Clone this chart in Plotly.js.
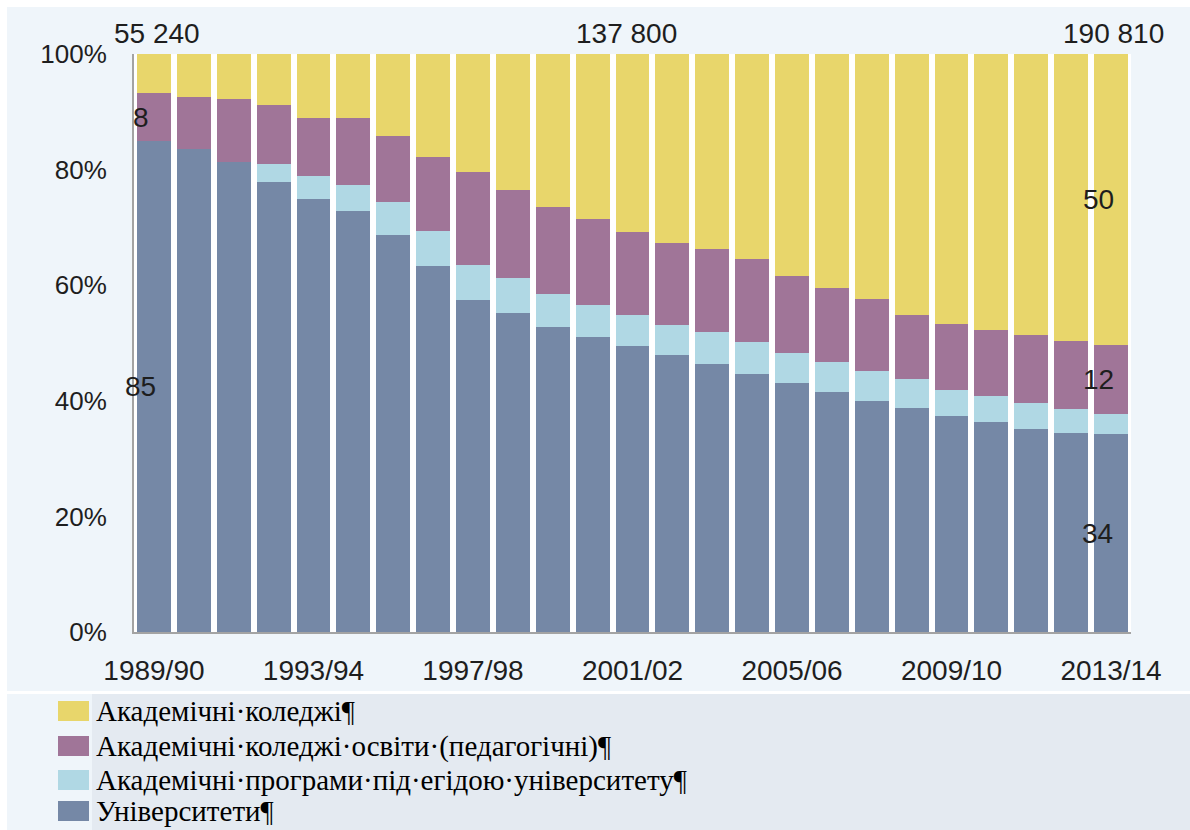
<!DOCTYPE html>
<html>
<head>
<meta charset="utf-8">
<script src="https://cdn.plot.ly/plotly-3.0.1.min.js"></script>
<style>
  html, body { margin: 0; padding: 0; background: #ffffff; }
  #chart { width: 1190px; height: 830px; }
</style>
</head>
<body>
<div id="chart"></div>
<script>
// ---- data ----
const years = ["1989/90","1990/91","1991/92","1992/93","1993/94","1994/95","1995/96","1996/97",
  "1997/98","1998/99","1999/00","2000/01","2001/02","2002/03","2003/04","2004/05","2005/06",
  "2006/07","2007/08","2008/09","2009/10","2010/11","2011/12","2012/13","2013/14"];
const tickYears = ["1989/90","1993/94","1997/98","2001/02","2005/06","2009/10","2013/14"];
const yTickVals = [0, 20, 40, 60, 80, 100];
const yTickText = ["0%", "20%", "40%", "60%", "80%", "100%"];

const seriesNames = [
  "Академічні·коледжі¶",
  "Академічні·коледжі·освіти·(педагогічні)¶",
  "Академічні·програми·під·егідою·університету¶",
  "Університети¶"
];
const seriesColors = ["#E8D66B", "#A07598", "#B0D8E4", "#7588A6"];

const academicColleges = [6.7,7.5,7.8,8.9,11.0,11.0,14.1,17.9,20.5,23.6,26.5,28.6,30.8,32.7,33.7,35.4,38.4,40.4,42.4,45.2,46.7,47.8,48.7,49.6,50.4];
const teacherColleges  = [8.4,8.9,10.8,10.1,10.1,11.7,11.5,12.7,16.0,15.1,15.0,14.9,14.4,14.2,14.4,14.4,13.3,12.9,12.5,11.0,11.4,11.3,11.6,11.9,11.9];
const univPrograms     = [0,0,0,3.2,4.0,4.5,5.8,6.0,6.1,6.1,5.8,5.5,5.3,5.2,5.5,5.6,5.2,5.2,5.1,5.0,4.5,4.6,4.5,4.0,3.5];
const universities     = [84.9,83.6,81.4,77.8,74.9,72.8,68.6,63.4,57.4,55.2,52.7,51.0,49.5,47.9,46.4,44.6,43.1,41.5,40.0,38.8,37.4,36.3,35.2,34.5,34.2];

const totalLabels = ["55 240", "137 800", "190 810"];
const totalYears  = ["1989/90", "2001/02", "2013/14"];

// ---- layout helpers (pixel -> paper) ----
const W = 1190, H = 830;
const M = {l: 134, r: 59, t: 54, b: 198};
const PW = W - M.l - M.r, PH = H - M.t - M.b;
const px = X => (X - M.l) / PW;
const py = Y => (H - M.b - Y) / PH;

const valuesTopDown = [academicColleges, teacherColleges, univPrograms, universities];

// stacked bars, bottom to top: universities, programs, teacher colleges, academic colleges
const traces = [3, 2, 1, 0].map(i => ({
  type: "bar",
  x: years,
  y: valuesTopDown[i],
  name: seriesNames[i],
  marker: {color: seriesColors[i], line: {width: 0}},
  showlegend: false,
  hoverinfo: "skip"
}));

const txtFont = {family: "Liberation Sans, Arial, sans-serif", size: 28, color: "#1e1e1e"};
const yFont = {family: "Liberation Sans, Arial, sans-serif", size: 26, color: "#1e1e1e"};

const annotations = [];
// totals above bars
totalLabels.forEach((t, k) => {
  const shift = k === 0 ? 3 : (k === 1 ? -6 : 2);
  annotations.push({xref: "x", yref: "paper", x: totalYears[k], y: py(34), xshift: shift,
    text: t, showarrow: false, xanchor: "center", yanchor: "middle", font: txtFont});
});
// segment labels, first bar
const first = 0, last = years.length - 1;
annotations.push({xref: "x", yref: "y", x: years[first], y: universities[first] / 2, xshift: -13,
  text: String(Math.round(universities[first])), showarrow: false, font: txtFont});
annotations.push({xref: "x", yref: "y", x: years[first],
  y: universities[first] + univPrograms[first] + teacherColleges[first] / 2, xshift: -13,
  text: String(Math.round(teacherColleges[first])), showarrow: false, font: txtFont});
// segment labels, last bar
annotations.push({xref: "x", yref: "y", x: years[last], y: universities[last] / 2, xshift: -14,
  text: String(Math.round(universities[last])), showarrow: false, font: txtFont});
annotations.push({xref: "x", yref: "y", x: years[last],
  y: universities[last] + univPrograms[last] + teacherColleges[last] / 2, xshift: -13,
  text: String(Math.round(teacherColleges[last])), showarrow: false, font: txtFont});
annotations.push({xref: "x", yref: "y", x: years[last],
  y: 100 - academicColleges[last] / 2, xshift: -13,
  text: String(Math.round(academicColleges[last])), showarrow: false, font: txtFont});

// background regions
const shapes = [
  {type: "rect", xref: "paper", yref: "paper", x0: px(0), x1: px(W), y0: py(7), y1: py(0),
    fillcolor: "#ffffff", line: {width: 0}, layer: "below"},
  {type: "rect", xref: "paper", yref: "paper", x0: px(0), x1: px(7), y0: py(H), y1: py(0),
    fillcolor: "#ffffff", line: {width: 0}, layer: "below"},
  {type: "rect", xref: "paper", yref: "paper", x0: px(0), x1: px(W), y0: py(694), y1: py(691),
    fillcolor: "#ffffff", line: {width: 0}, layer: "below"},
  {type: "rect", xref: "paper", yref: "paper", x0: px(92), x1: px(W), y0: py(H), y1: py(694),
    fillcolor: "#E4EAF1", line: {width: 0}, layer: "below"}
];

// manual legend
const legendRows = [711, 746, 780, 811];
seriesNames.forEach((n, i) => {
  const cy = legendRows[i];
  shapes.push({type: "rect", xref: "paper", yref: "paper",
    x0: px(58), x1: px(89), y0: py(cy + 10), y1: py(cy - 10),
    fillcolor: seriesColors[i], line: {width: 0}, layer: "above"});
  annotations.push({xref: "paper", yref: "paper", x: px(94), y: py(cy), xanchor: "left", yanchor: "middle",
    text: n, showarrow: false,
    font: {family: "Liberation Serif, Times New Roman, serif", size: 29, color: "#000000"}});
});

const layout = {
  width: W, height: H,
  margin: M,
  paper_bgcolor: "#EFF5FA",
  plot_bgcolor: "#ffffff",
  barmode: "stack",
  bargap: 0.15,
  showlegend: false,
  font: txtFont,
  xaxis: {
    type: "category",
    range: [-0.5, years.length - 0.5],
    autorange: false,
    tickmode: "array",
    tickvals: tickYears,
    ticktext: tickYears,
    ticks: "",
    showgrid: false,
    showline: true, linecolor: "#a3a3a3", linewidth: 2,
    tickfont: txtFont,
    ticklabelstandoff: 12,
    fixedrange: true
  },
  yaxis: {
    range: [0, 100],
    autorange: false,
    tickmode: "array",
    tickvals: yTickVals,
    ticktext: yTickText,
    ticks: "",
    showgrid: false,
    zeroline: false,
    showline: true, linecolor: "#a3a3a3", linewidth: 2,
    tickfont: yFont,
    ticklabelstandoff: 20,
    fixedrange: true
  },
  shapes: shapes,
  annotations: annotations
};

Plotly.newPlot("chart", traces, layout, {displayModeBar: false, staticPlot: true});
</script>
</body>
</html>
